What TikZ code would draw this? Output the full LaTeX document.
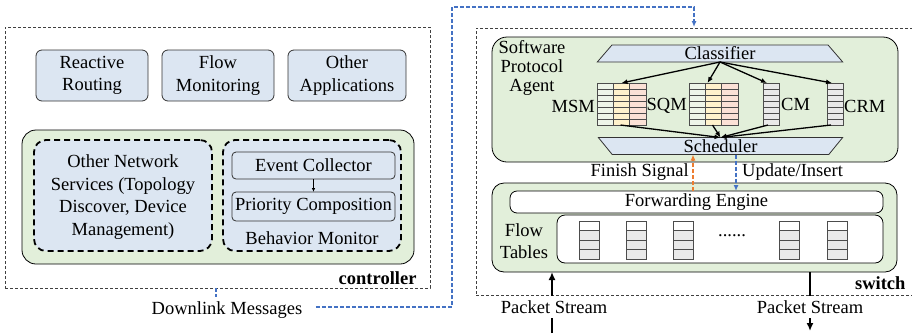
\documentclass[tikz,border=0pt]{standalone}
\usepackage{fontspec}
\setmainfont{Liberation Serif}
\usetikzlibrary{arrows.meta,shapes.geometric}
\definecolor{boxblue}{HTML}{DCE6F2}
\definecolor{boxgreen}{HTML}{E2EFDA}
\definecolor{qgreen}{HTML}{EEF5E9}
\definecolor{qyellow}{HTML}{FFF2CC}
\definecolor{qpink}{HTML}{FBE1D6}
\definecolor{qgray}{HTML}{E9E9E9}
\definecolor{linkblue}{HTML}{4472C4}
\definecolor{linkorange}{HTML}{ED7D31}
\tikzset{
  outerbox/.style={draw=black!75, line width=0.8pt, dash pattern=on 3pt off 2pt, inner sep=0pt, outer sep=0pt, anchor=north west},
  appbox/.style={draw=black!80, fill=boxblue, rounded corners=6pt, line width=0.8pt, align=center, inner sep=0pt, outer sep=0pt, anchor=north west},
  greenbox/.style={draw=black, fill=boxgreen, rounded corners=14pt, line width=0.8pt, inner sep=0pt, outer sep=0pt, anchor=north west},
  dashbox/.style={draw=black, fill=boxblue, line width=1.8pt, dash pattern=on 6pt off 4pt, rounded corners=12pt, inner sep=0pt, outer sep=0pt, anchor=north west},
  whitebox/.style={draw=black, fill=white, rounded corners=7pt, line width=0.8pt, inner sep=0pt, outer sep=0pt, anchor=north west},
  trap/.style={draw=black!80, fill=boxblue, line width=0.8pt, shape=trapezium, trapezium stretches=true, trapezium left angle=70, trapezium right angle=70, minimum width=246pt, minimum height=17pt, inner sep=0pt, outer sep=0pt},
  qline/.style={draw=black!70, line width=0.8pt},
  anchorbox/.style={inner sep=0pt, outer sep=0pt, anchor=north west},
  arr/.style={line width=1.3pt, -{Latex[length=6pt,width=5pt]}},
  thickarr/.style={line width=2.2pt, -{Latex[length=8pt,width=7pt]}},
  bluedash/.style={draw=linkblue, line width=1.3pt, dash pattern=on 4pt off 2pt},
  orangedash/.style={draw=linkorange, line width=1.3pt, dash pattern=on 4pt off 2pt},
}
\begin{document}
\begin{tikzpicture}[x=1pt,y=-1pt,font=\fontsize{18.5}{22.5}\selectfont]
\useasboundingbox (0,0) rectangle (912,333);

% ---------------- controller ----------------
\node[outerbox, minimum width=425pt, minimum height=261pt] (ctrl) at (5,27) {};
\node[appbox, minimum width=112pt, minimum height=51pt] (rr) at (36,50) {Reactive\\Routing};
\node[appbox, minimum width=112pt, minimum height=51pt] (fm) at (162,50) {Flow\\Monitoring};
\node[appbox, minimum width=118pt, minimum height=51pt] (oa) at (288,50) {Other\\Applications};
\node[greenbox, minimum width=392pt, minimum height=134pt] (cg) at (22,130) {};
\node[dashbox, minimum width=178pt, minimum height=111pt] (ons) at (34,140) {};
\node[dashbox, minimum width=178pt, minimum height=111pt] (bm) at (223,140) {};
\node[align=center] (onst) at (123,197) {Other Network\\Services (Topology\\Discover, Device\\Management)};
\node[appbox, rounded corners=4pt, minimum width=163pt, minimum height=27pt] (ec) at (232,152) {Event Collector};
\node[appbox, rounded corners=4pt, minimum width=163pt, minimum height=29pt] (pc) at (232,192) {Priority Composition};
\draw[line width=0.8pt, -{Latex[length=4pt,width=3.5pt]}] (ec.south) -- (pc.north);
\node (bmt) at (312,238) {Behavior Monitor};
\node[anchor=east, font=\fontsize{18.5}{22.5}\selectfont\bfseries] (ctrll) at (420,278) {controller};

% ---------------- downlink ----------------
\node (dl) at (227,310) {Downlink Messages};
\coordinate (tick) at (216,297);
\draw[bluedash] (tick |- ctrl.south) -- (tick);
\coordinate (bend) at (452,7);
\coordinate (swin) at (694,27);
\draw[bluedash, -{Latex[length=6pt,width=5pt]}] ([xshift=10pt,yshift=3pt]dl.east) -| (bend) -| (swin);

% ---------------- switch ----------------
\node[outerbox, minimum width=440pt, minimum height=267pt] (sw) at (476,28) {};
\node[greenbox, rounded corners=15pt, minimum width=406pt, minimum height=125pt] (spa) at (492,37) {};
\node[align=center, font=\fontsize{18.5}{18.7}\selectfont] (spat) at (532,68) {Software\\Protocol\\Agent};
\node[trap] (cls) at (720,53.5) {Classifier};
\node[trap, shape border rotate=180] (sch) at (720.5,146) {Scheduler};

% queues
\foreach \x in {597,689} {
  \foreach \c/\col in {0/qgreen,1/qyellow,2/qpink} {
    \foreach \r in {0,...,6} {
      \draw[qline, fill=\col] ({\x+\c*16.33},{83+\r*6}) rectangle ++(16.33,6);
    }
  }
}
\foreach \x in {763,827} {
  \foreach \r in {0,...,6} {
    \draw[qline, fill=qgray] (\x,{83+\r*6}) rectangle ++(16,6);
  }
}
\node[anchorbox, minimum width=49pt, minimum height=42pt] (msm) at (597,83) {};
\node[anchorbox, minimum width=49pt, minimum height=42pt] (sqm) at (689,83) {};
\node[anchorbox, minimum width=16pt, minimum height=42pt] (cm) at (763,83) {};
\node[anchorbox, minimum width=16pt, minimum height=42pt] (crm) at (827,83) {};
\node[anchor=east, inner sep=1pt] (msml) at (596,106) {MSM};
\node[anchor=east, inner sep=1pt] (sqml) at (688,106) {SQM};
\node[anchor=west, inner sep=1pt] (cml) at (780,104) {CM};
\node[anchor=west, inner sep=1pt] (crml) at (843,106) {CRM};

\draw[arr] (cls.south) -- (msm.north);
\draw[arr] (cls.south) -- ([xshift=-6pt]sqm.north);
\draw[arr] (cls.south) -- ([xshift=-4pt]cm.north);
\draw[arr] (cls.south) -- ([xshift=-3pt]crm.north);
\draw[arr] ([xshift=-1pt]msm.south) -- (sch.north);
\draw[arr] ([xshift=-1pt]sqm.south) -- (sch.north);
\draw[arr] ([xshift=-3pt]cm.south) -- (sch.north);
\draw[arr] ([xshift=-4pt]crm.south) -- (sch.north);

% switch data plane
\node[greenbox, rounded corners=12pt, minimum width=405pt, minimum height=89pt] (swg) at (492,183) {};
\node[whitebox, minimum width=373pt, minimum height=22pt] (fe) at (510,191) {Forwarding Engine};
\node[whitebox, rounded corners=8pt, minimum width=326pt, minimum height=48pt] (ft) at (557,215) {};
\node[align=center] (ftt) at (524,241) {Flow\\Tables};
\foreach \x in {579,626,673,779,827} {
  \draw[qline, fill=white] (\x,221) rectangle ++(20,9.5);
  \foreach \r in {1,2,3} {
    \draw[qline, fill=qgray] (\x,{221+\r*9.5}) rectangle ++(20,9.5);
  }
}
\node (dots) at (732,236) {......};

% signals
\coordinate (fsx) at (693,0);
\coordinate (uix) at (736,0);
\draw[orangedash, -{Latex[length=6pt,width=5pt]}] (fsx |- fe.north) -- (fsx |- sch.south);
\draw[bluedash, -{Latex[length=6pt,width=5pt]}] (uix |- sch.south) -- (uix |- fe.north);
\node[anchor=east, inner sep=2pt] (fst) at (691,172) {Finish Signal};
\node[anchor=west, inner sep=2pt] (uit) at (740,172) {Update/Insert};

% packet streams
\coordinate (psin) at (552,333);
\coordinate (psout) at (810,331);
\draw[thickarr] (psin) -- (psin |- swg.south);
\draw[thickarr] (psout |- swg.south) -- (psout);
\node[fill=white, minimum height=22pt, inner sep=1pt] (ps1) at (554,307) {Packet Stream};
\node[fill=white, minimum height=22pt, inner sep=1pt] (ps2) at (810,307) {Packet Stream};
\node[anchor=east, font=\fontsize{18.5}{22.5}\selectfont\bfseries] (swl) at (909,283) {switch};
\end{tikzpicture}
\end{document}
